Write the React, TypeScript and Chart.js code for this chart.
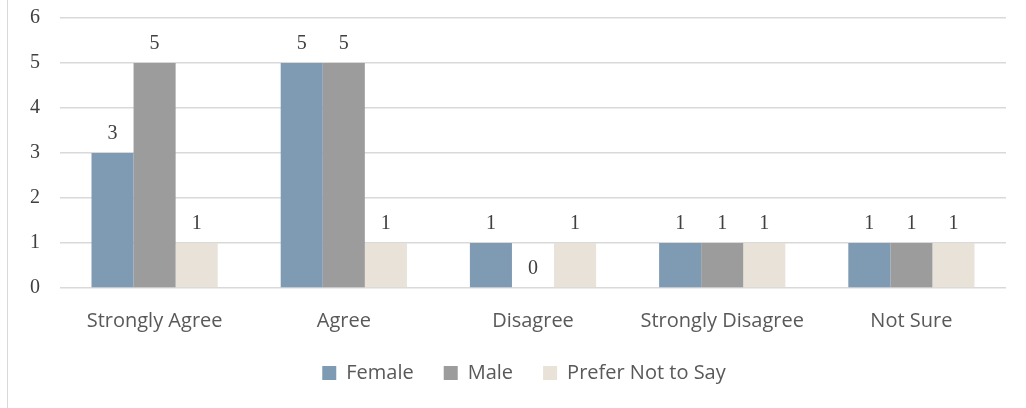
import React, { useEffect, useRef } from "react";
import { Chart, registerables } from "chart.js";

Chart.register(...registerables);

const categories = ["Strongly Agree", "Agree", "Disagree", "Strongly Disagree", "Not Sure"];
const femaleValues = [3, 5, 1, 1, 1];
const maleValues = [5, 5, 0, 1, 1];
const preferNotValues = [1, 1, 1, 1, 1];
const yTicks = [0, 1, 2, 3, 4, 5, 6];

const SERIF = "'Liberation Serif', 'DejaVu Serif', serif";
const SANS = "'Open Sans', 'Noto Sans', sans-serif";

// Writes each bar's value just above its top edge.
const valueLabels = {
  id: "valueLabels",
  afterDatasetsDraw(chart: any) {
    const ctx = chart.ctx;
    ctx.save();
    ctx.font = `20px ${SERIF}`;
    ctx.fillStyle = "#404040";
    ctx.textAlign = "center";
    ctx.textBaseline = "middle";
    chart.data.datasets.forEach((ds: any, di: number) => {
      const meta = chart.getDatasetMeta(di);
      meta.data.forEach((bar: any, i: number) => {
        ctx.fillText(String(ds.data[i]), bar.x, bar.y - 19);
      });
    });
    ctx.restore();
  },
};

// Thin frame line along the left edge of the chart box.
const frameLine = {
  id: "frameLine",
  beforeDraw(chart: any) {
    const ctx = chart.ctx;
    ctx.save();
    ctx.strokeStyle = "#D9D9D9";
    ctx.lineWidth = 1;
    ctx.beginPath();
    ctx.moveTo(7.5, 0);
    ctx.lineTo(7.5, chart.height);
    ctx.stroke();
    ctx.restore();
  },
};

// Centres the legend row under the plot area instead of the whole canvas.
const legendShift = {
  id: "legendShift",
  afterLayout(chart: any) {
    const lg = chart.legend;
    if (lg) {
      lg.left += 21;
      lg.right += 21;
    }
  },
};

export default function App() {
  const canvasRef = useRef<HTMLCanvasElement | null>(null);

  useEffect(() => {
    document.body.style.margin = "0";
    const canvas = canvasRef.current;
    if (!canvas) return;
    const chart = new Chart(canvas, {
      type: "bar",
      data: {
        labels: categories,
        datasets: [
          { label: "Female", data: femaleValues, backgroundColor: "#7F9BB3" },
          { label: "Male", data: maleValues, backgroundColor: "#9C9C9C" },
          { label: "Prefer Not to Say", data: preferNotValues, backgroundColor: "#E8E2D8" },
        ],
      },
      options: {
        animation: false,
        responsive: false,
        maintainAspectRatio: false,
        layout: { padding: { top: 18, right: 20, bottom: 15, left: 0 } },
        datasets: {
          bar: { barPercentage: 1, categoryPercentage: 0.667 },
        },
        scales: {
          x: {
            grid: { display: false, drawTicks: false },
            border: { display: false },
            ticks: {
              color: "#595959",
              font: { family: SANS, size: 20 },
              padding: 21,
            },
            afterFit(axis: any) {
              axis.height -= 21;
            },
          },
          y: {
            min: 0,
            max: 6,
            afterBuildTicks(axis: any) {
              axis.ticks = yTicks.map((v) => ({ value: v }));
            },
            afterFit(axis: any) {
              axis.width = 60;
              axis.paddingTop = 0;
              axis.paddingBottom = 0;
            },
            grid: { color: "#D9D9D9", lineWidth: 1.5, drawTicks: false },
            border: { display: false },
            ticks: {
              color: "#404040",
              font: { family: SERIF, size: 20 },
              padding: 20,
            },
          },
        },
        plugins: {
          legend: {
            position: "bottom",
            labels: {
              boxWidth: 14,
              boxHeight: 14,
              color: "#595959",
              font: { family: SANS, size: 20 },
              padding: 30,
            },
          },
          tooltip: { enabled: false },
        },
      },
      plugins: [valueLabels, frameLine, legendShift],
    });
    return () => chart.destroy();
  }, []);

  return (
    <div style={{ width: 1026, height: 408 }}>
      <canvas ref={canvasRef} width={1026} height={408} style={{ display: "block" }} />
    </div>
  );
}
